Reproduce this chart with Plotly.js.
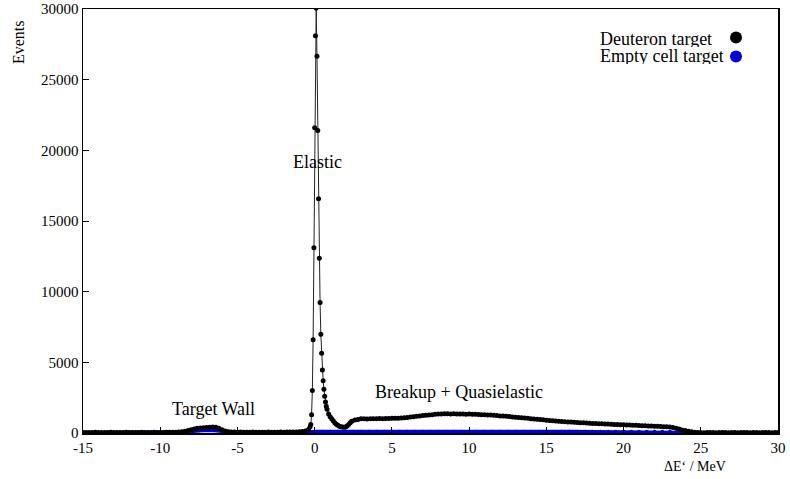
<!DOCTYPE html>
<html>
<head>
<meta charset="utf-8">
<script src="https://cdn.plot.ly/plotly-3.0.1.min.js"></script>
<style>html,body{margin:0;padding:0;background:#fff;}#chart{width:790px;height:479px;}</style>
</head>
<body>
<div id="chart"></div>
<script>
// ---- Data ----
// Energy bins (MeV) for the deuteron-target spectrum
const deuteronE = [
  -15.0,-14.8,-14.6,-14.4,-14.2,-14.0,-13.8,-13.6,-13.4,-13.2,
  -13.0,-12.8,-12.6,-12.4,-12.2,-12.0,-11.8,-11.6,-11.4,-11.2,
  -11.0,-10.8,-10.6,-10.4,-10.2,-10.0,-9.8,-9.6,-9.4,-9.2,
  -9.0,-8.8,-8.6,-8.4,-8.2,-8.0,-7.8,-7.6,-7.4,-7.2,
  -7.0,-6.8,-6.6,-6.4,-6.2,-6.0,-5.8,-5.6,
  -5.4,-5.2,-5.0,-4.8,-4.6,-4.4,-4.2,-4.0,-3.8,-3.6,-3.4,-3.2,
  -3.0,-2.8,-2.6,-2.4,-2.2,-2.0,-1.8,-1.6,-1.4,-1.2,-1.0,
  -0.8,-0.6,-0.4,-0.3,-0.25,-0.2,-0.15,-0.1,-0.05,0.0,0.05,0.1,
  0.15,0.2,0.25,0.3,0.35,0.4,0.45,0.5,0.55,0.6,0.65,0.7,0.75,0.8,
  0.9,1.0,1.1,1.2,1.3,1.4,1.5,1.6,1.7,1.8,1.9,2.0,2.1,2.2,2.3,2.4,2.6,2.8,
  3.0,3.2,3.4,3.6,3.8,4.0,4.2,4.4,4.6,4.8,
  5.0,5.2,5.4,5.6,5.8,6.0,6.2,6.4,6.6,6.8,
  7.0,7.2,7.4,7.6,7.8,8.0,8.2,8.4,8.6,8.8,
  9.0,9.2,9.4,9.6,9.8,10.0,10.2,10.4,10.6,10.8,
  11.0,11.2,11.4,11.6,11.8,12.0,12.2,12.4,12.6,12.8,
  13.0,13.2,13.4,13.6,13.8,14.0,14.2,14.4,14.6,14.8,
  15.0,15.2,15.4,15.6,15.8,16.0,16.2,16.4,16.6,16.8,
  17.0,17.2,17.4,17.6,17.8,18.0,18.2,18.4,18.6,18.8,
  19.0,19.2,19.4,19.6,19.8,20.0,20.2,20.4,20.6,20.8,
  21.0,21.2,21.4,21.6,21.8,22.0,22.2,22.4,22.6,22.8,
  23.0,23.2,23.4,23.6,23.8,24.0,24.2,24.4,24.6,24.8,
  25.0,25.2,25.4,25.6,25.8,26.0,26.2,26.4,26.6,26.8,
  27.0,27.2,27.4,27.6,27.8,28.0,28.2,28.4,28.6,28.8,
  29.0,29.2,29.4,29.6,29.8,30.0
];
// Events, deuteron target
const deuteronCounts = [
  30,40,35,30,45,40,35,30,40,45,
  35,30,40,35,45,40,30,35,40,45,
  35,40,30,45,40,35,40,45,50,45,
  55,70,95,130,175,225,280,330,360,375,
  385,410,425,400,330,230,140,90,
  70,65,60,65,60,55,60,65,60,55,60,60,
  65,60,55,60,65,60,65,70,70,75,80,
  100,140,250,420,600,1300,3000,6600,13100,21600,28100,30050,
  26650,21400,16570,12370,9230,6990,5640,4460,3700,3100,2600,2200,1900,1680,
  1350,1150,1000,860,730,620,540,480,440,420,410,430,500,600,720,830,920,960,
  1000,1010,995,1010,1000,1015,1020,1010,1025,1030,
  1035,1040,1050,1060,1085,1100,1125,1150,1180,1200,
  1230,1255,1280,1300,1320,1340,1345,1355,1360,1350,
  1355,1340,1350,1340,1335,1340,1320,1325,1310,1300,
  1290,1280,1265,1250,1230,1210,1200,1180,1170,1140,
  1120,1100,1080,1060,1040,1010,990,970,950,930,
  910,890,870,850,830,815,800,785,770,755,
  740,730,720,705,690,680,670,660,650,640,
  630,620,610,600,590,580,570,560,550,540,
  530,520,510,500,490,480,470,460,450,440,
  420,390,340,280,220,170,120,80,50,35,
  30,25,30,35,30,25,30,30,35,25,
  30,30,25,30,35,30,25,30,30,25,
  30,35,30,25,30,30
];
// Energy bins (MeV) for the empty-cell spectrum
const emptyE = [
  -15.0,-14.5,-14.0,-13.5,-13.0,-12.5,-12.0,-11.5,-11.0,-10.5,-10.0,-9.5,
  -9.0,-8.5,-8.0,-7.5,-7.0,-6.5,-6.0,-5.5,
  -5.0,-4.5,-4.0,-3.5,-3.0,-2.5,-2.0,-1.5,-1.0,-0.5,
  0.0,0.5,1.0,1.5,2.0,2.5,3.0,3.5,4.0,4.5,5.0,5.5,6.0,6.5,7.0,7.5,
  8.0,8.5,9.0,9.5,10.0,10.5,11.0,11.5,12.0,12.5,13.0,13.5,14.0,14.5,15.0,15.5,
  16.0,16.5,17.0,17.5,18.0,18.5,19.0,19.5,20.0,20.5,21.0,21.5,22.0,22.5,23.0,23.5,
  24.0,24.5,25.0,25.5,26.0,26.5,27.0,27.5,28.0,28.5,29.0,29.5,30.0
];
// Events, empty cell target
const emptyCounts = [
  5,5,5,5,5,5,5,5,5,5,5,5,
  20,60,130,190,205,195,120,45,
  15,15,15,15,15,15,15,15,15,40,
  90,92,90,88,90,92,90,90,92,90,90,92,90,90,92,90,
  90,92,90,90,92,90,90,88,90,90,88,90,90,88,90,88,
  88,88,86,88,86,86,86,84,86,84,84,84,82,84,82,80,
  60,30,8,3,3,3,3,3,3,3,3,3,3
];
const seriesNames = ["Deuteron target", "Empty cell target"];
const xTickVals = [-15, -10, -5, 0, 5, 10, 15, 20, 25, 30];
const xTickText = ["-15", "-10", "-5", "0", "5", "10", "15", "20", "25", "30"];
const yTickVals = [0, 5000, 10000, 15000, 20000, 25000, 30000];
const yTickText = ["0", "5000", "10000", "15000", "20000", "25000", "30000"];

// ---- Figure ----
const serif = "Liberation Serif";
const black = "#000000";
const blue = "#0000dd";

const traces = [
  { x: emptyE, y: emptyCounts, type: "scatter", mode: "lines",
    line: { color: blue, width: 4 }, showlegend: false, hoverinfo: "skip" },
  { x: emptyE, y: emptyCounts, type: "scatter", mode: "markers", name: "",
    marker: { color: blue, size: 4 }, legendrank: 2 },
  { x: deuteronE, y: deuteronCounts, type: "scatter", mode: "lines",
    line: { color: "#222222", width: 1 }, showlegend: false, hoverinfo: "skip" },
  { x: deuteronE, y: deuteronCounts, type: "scatter", mode: "markers", name: "",
    marker: { color: black, size: 5 }, legendrank: 1 }
];

function axis(range, vals, text) {
  return {
    range: range, tickmode: "array", tickvals: vals, ticktext: text,
    showgrid: false, zeroline: false, showline: true, mirror: true,
    linecolor: black, linewidth: 1.5, ticks: "inside", ticklen: 6, tickcolor: black,
    tickfont: { family: serif, size: 15, color: black }
  };
}

const txt = (size) => ({ family: serif, size: size, color: black });

const layout = {
  width: 790, height: 479,
  margin: { l: 83, r: 12, t: 9, b: 46 },
  paper_bgcolor: "#ffffff", plot_bgcolor: "#ffffff",
  font: { family: serif, color: black, size: 15 },
  xaxis: axis([-15, 30], xTickVals, xTickText),
  yaxis: axis([0, 30000], yTickVals, yTickText),
  showlegend: true,
  legend: { x: 0.9108, xanchor: "left", y: 0.967, yanchor: "top",
            bgcolor: "rgba(0,0,0,0)", borderwidth: 0, itemsizing: "constant",
            font: { family: serif, size: 10 }, traceorder: "normal" },
  annotations: [
    { x: 0.21, y: 19190, xref: "x", yref: "y", xanchor: "center", yanchor: "middle",
      text: "Elastic", showarrow: false, font: txt(18) },
    { x: -6.52, y: 1700, xref: "x", yref: "y", xanchor: "center", yanchor: "middle",
      text: "Target Wall", showarrow: false, font: txt(18) },
    { x: 9.34, y: 2900, xref: "x", yref: "y", xanchor: "center", yanchor: "middle",
      text: "Breakup + Quasielastic", showarrow: false, font: txt(18) },
    { x: 0.741, y: 0.931, xref: "paper", yref: "paper", xanchor: "left", yanchor: "middle",
      height: 17, text: seriesNames[0], showarrow: false, font: txt(18) },
    { x: 0.741, y: 0.8915, xref: "paper", yref: "paper", xanchor: "left", yanchor: "middle",
      height: 17, text: seriesNames[1], showarrow: false, font: txt(18) },
    { x: -0.0935, y: 0.922, xref: "paper", yref: "paper", xanchor: "center", yanchor: "middle",
      text: "Events", textangle: -90, showarrow: false, font: txt(16) },
    { x: 0.8806, y: -0.080, xref: "paper", yref: "paper", xanchor: "center", yanchor: "middle",
      text: "ΔE‘ / MeV", showarrow: false, font: txt(14) }
  ]
};

Plotly.newPlot("chart", traces, layout, { displayModeBar: false, staticPlot: true });
</script>
</body>
</html>
